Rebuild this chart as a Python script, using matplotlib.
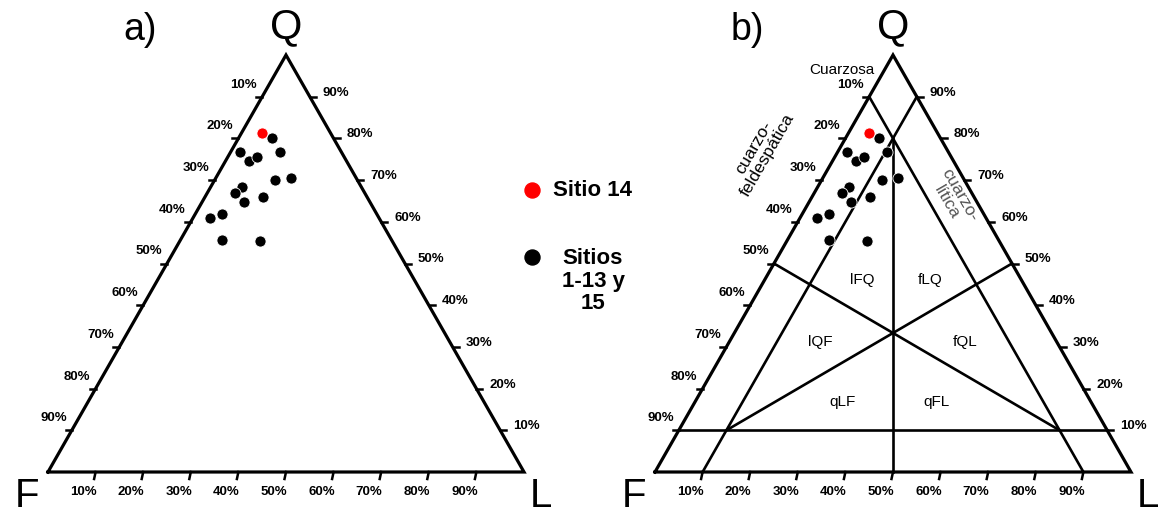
import matplotlib
matplotlib.use("Agg")
import matplotlib.pyplot as plt
from matplotlib.transforms import offset_copy
import numpy as np

plt.rcParams['font.family'] = ['Liberation Sans', 'DejaVu Sans']

# Modal composition (%) : quartz Q, feldspar F, lithic fragments L
site14_q = [81.2]
site14_f = [14.5]
site14_l = [4.3]

sites_q = [80.2, 76.8, 76.8, 74.7, 75.5, 70.0, 70.6, 68.3, 67.0, 64.7, 65.9, 61.8, 60.8, 55.6, 55.3]
sites_f = [12.9, 21.2, 12.8, 20.5, 18.3, 17.4, 13.7, 25.1, 27.3, 26.5, 21.8, 32.5, 35.6, 35.7, 27.8]
sites_l = [6.9, 2.0, 10.4, 4.8, 6.2, 12.6, 15.7, 6.6, 5.7, 8.8, 12.3, 5.7, 3.6, 8.7, 16.9]

tick_values = [10, 20, 30, 40, 50, 60, 70, 80, 90]
tick_labels = [f"{v}%" for v in tick_values]

# Classification fields of diagram b): (Q, F, L) end points of each boundary
class_lines = [
    ((90, 10, 0), (0, 10, 90)),
    ((90, 0, 10), (0, 90, 10)),
    ((10, 90, 0), (10, 0, 90)),
    ((80, 10, 10), (0, 50, 50)),
    ((50, 50, 0), (100 / 3, 100 / 3, 100 / 3)),
    ((50, 0, 50), (100 / 3, 100 / 3, 100 / 3)),
    ((100 / 3, 100 / 3, 100 / 3), (10, 80, 10)),
    ((100 / 3, 100 / 3, 100 / 3), (10, 10, 80)),
]
field_names = ["lFQ", "fLQ", "lQF", "fQL", "qLF", "qFL"]
field_pos = [(0.435, 0.46), (0.578, 0.46), (0.347, 0.312),
             (0.651, 0.312), (0.393, 0.168), (0.592, 0.168)]

W, H = 1158, 514
fig = plt.figure(figsize=(W / 100, H / 100), dpi=100)


def to_xy(q, f, l):
    q = np.asarray(q, float)
    f = np.asarray(f, float)
    l = np.asarray(l, float)
    s = q + f + l
    return (l + q / 2) / s, q / s


def off(ax, dx, dy):
    return offset_copy(ax.transData, fig=fig, x=dx, y=dy, units='dots')


def pxd(ax, dx, dy):
    pos = ax.get_position()
    return dx / (pos.width * W), dy / (pos.height * H)


def ternary_axes(left_px, panel):
    ax = fig.add_axes([left_px / W, (H - 472) / H, 476 / W, 417 / H])
    ax.set_xlim(0, 1)
    ax.set_ylim(0, 1)
    ax.axis('off')
    ax.plot([0, 1, 0.5, 0], [0, 0, 1, 0], color='black', lw=2.3,
            clip_on=False, solid_joinstyle='miter', zorder=3)
    tx, _ = pxd(ax, 6, 0)
    bx, by = pxd(ax, 1.5, 7)
    for v, lab in zip(tick_values, tick_labels):
        # left edge: F %
        x, y = to_xy(100 - v, v, 0)
        ax.plot([x, x - tx], [y, y], color='black', lw=1.8, clip_on=False)
        ax.text(x, y, lab, transform=off(ax, -5, 12), ha='right', va='center',
                fontsize=9.5, fontweight='bold')
        # right edge: Q %
        x, y = to_xy(v, 0, 100 - v)
        ax.plot([x, x + tx], [y, y], color='black', lw=1.8, clip_on=False)
        ax.text(x, y, lab, transform=off(ax, 13, 4), ha='left', va='center',
                fontsize=9.5, fontweight='bold')
        # base: L %
        x, y = to_xy(0, 100 - v, v)
        ax.plot([x, x - bx], [y, y - by], color='black', lw=1.8, clip_on=False)
        ax.text(x, y, lab, transform=off(ax, -12, -20), ha='center', va='center',
                fontsize=9.5, fontweight='bold')
    # vertex letters
    ax.text(0.5, 1, "Q", transform=off(ax, 0, 28), ha='center', va='center', fontsize=30)
    ax.text(0, 0, "F", transform=off(ax, -21, -24), ha='center', va='center', fontsize=29)
    ax.text(1, 0, "L", transform=off(ax, 17, -24), ha='center', va='center', fontsize=29)
    ax.text(0.5, 1, panel, transform=off(ax, -146, 25), ha='center', va='center', fontsize=27)
    return ax


def draw_sites(ax):
    x, y = to_xy(sites_q, sites_f, sites_l)
    ax.plot(x, y, 'o', color='black', ms=8, mec='white', mew=0.6,
            clip_on=False, zorder=5)
    x, y = to_xy(site14_q, site14_f, site14_l)
    ax.plot(x, y, 'o', color='#ff0000', ms=8, mec='white', mew=0.6,
            clip_on=False, zorder=5)


# a) sample plot
ax_a = ternary_axes(48, "a)")
draw_sites(ax_a)

# b) classification fields
ax_b = ternary_axes(655, "b)")
for p0, p1 in class_lines:
    x0, y0 = to_xy(*p0)
    x1, y1 = to_xy(*p1)
    ax_b.plot([x0, x1], [y0, y1], color='black', lw=1.9, clip_on=False, zorder=2)
for name, (fx, fy) in zip(field_names, field_pos):
    ax_b.text(fx, fy, name, ha='center', va='center', fontsize=11)
ax_b.text(0.393, 0.964, "Cuarzosa", ha='center', va='center', fontsize=11)
ax_b.text(0.222, 0.77, "cuarzo-\nfeldespática", ha='center', va='center',
          rotation=60, rotation_mode='anchor', fontsize=12.5, linespacing=1.0)
ax_b.text(0.626, 0.655, "cuarzo-\nlítica", ha='center', va='center', color='#555555',
          rotation=-60, rotation_mode='anchor', fontsize=12.5, linespacing=1.0)
draw_sites(ax_b)

# legend
fig.add_artist(plt.Line2D([532 / W], [1 - 190 / H], marker='o', color='#ff0000',
                          ms=10.8, transform=fig.transFigure))
fig.add_artist(plt.Line2D([532 / W], [1 - 257 / H], marker='o', color='black',
                          ms=10.8, transform=fig.transFigure))
fig.text(553 / W, 1 - 190 / H, "Sitio 14", ha='left', va='center',
         fontsize=16, fontweight='bold')
fig.text(593 / W, 1 - 281 / H, "Sitios\n1-13 y\n15", ha='center', va='center',
         fontsize=16, fontweight='bold', linespacing=1.1, multialignment='center')

fig.savefig("out.png", dpi=100, facecolor='white')
